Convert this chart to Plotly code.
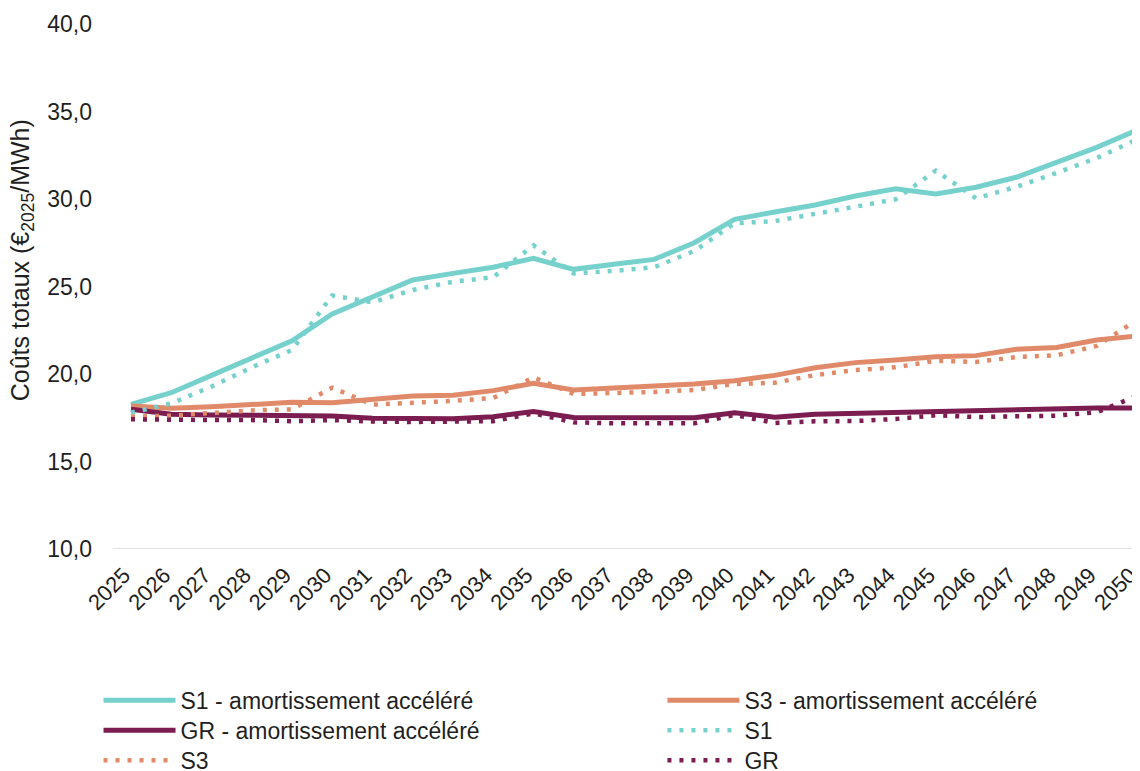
import plotly.graph_objects as go

years = [str(y) for y in range(2025, 2051)]

s1_acc = [18.27, 18.93, 19.92, 20.91, 21.90, 23.43, 24.40, 25.37, 25.75, 26.10,
          26.61, 25.98, 26.27, 26.55, 27.50, 28.84, 29.26, 29.66, 30.17, 30.59,
          30.29, 30.67, 31.24, 32.13, 32.95, 33.94]
s3_acc = [18.17, 18.04, 18.13, 18.27, 18.38, 18.36, 18.57, 18.74, 18.79, 19.05,
          19.47, 19.09, 19.20, 19.31, 19.43, 19.62, 19.92, 20.36, 20.65, 20.80,
          20.99, 21.05, 21.41, 21.51, 21.94, 22.17]
gr_acc = [17.98, 17.70, 17.66, 17.64, 17.60, 17.60, 17.47, 17.47, 17.45, 17.56,
          17.85, 17.52, 17.50, 17.49, 17.50, 17.79, 17.53, 17.70, 17.75, 17.83,
          17.89, 17.92, 17.98, 18.02, 18.06, 18.06]
s1 = [17.79, 18.32, 19.28, 20.38, 21.37, 24.49, 24.10, 24.80, 25.27, 25.53,
      27.35, 25.75, 25.89, 26.10, 27.03, 28.61, 28.74, 29.12, 29.56, 29.98,
      31.62, 30.04, 30.69, 31.49, 32.34, 33.40]
s3 = [17.56, 17.62, 17.77, 17.92, 17.98, 19.22, 18.25, 18.34, 18.46, 18.63,
      19.81, 18.86, 18.90, 18.97, 19.09, 19.43, 19.50, 19.94, 20.23, 20.38,
      20.76, 20.69, 20.97, 21.07, 21.60, 23.09]
gr = [17.41, 17.37, 17.37, 17.37, 17.30, 17.37, 17.28, 17.26, 17.26, 17.30,
      17.75, 17.24, 17.18, 17.18, 17.18, 17.66, 17.20, 17.30, 17.31, 17.43,
      17.64, 17.54, 17.58, 17.62, 17.81, 18.75]

y_ticks = [10, 15, 20, 25, 30, 35, 40]
y_tick_text = ["10,0", "15,0", "20,0", "25,0", "30,0", "35,0", "40,0"]

TEAL = "#76D1CD"
ORANGE = "#E08A6A"
MAROON = "#7B1D50"
FONT = "Liberation Sans, Arial, sans-serif"
TXT = "#1f1f1f"
DOT = "4px,8px"

# (name, values, colour, dash) -- legend laid out in two columns, three rows
series = [
    ("S1 - amortissement accéléré", s1_acc, TEAL, "solid"),
    ("S3 - amortissement accéléré", s3_acc, ORANGE, "solid"),
    ("GR - amortissement accéléré", gr_acc, MAROON, "solid"),
    ("S1", s1, TEAL, DOT),
    ("S3", s3, ORANGE, DOT),
    ("GR", gr, MAROON, DOT),
]

legend_names = ["legend", "legend2", "legend3", "legend4", "legend5", "legend6"]

fig = go.Figure()
for (name, vals, col, dash), lg in zip(series, legend_names):
    fig.add_trace(go.Scatter(
        x=years, y=vals, name=name, mode="lines", legend=lg,
        line=dict(color=col, width=5 if dash == "solid" else 4.5, dash=dash),
        hoverinfo="skip",
    ))

legend_common = dict(
    orientation="v", yanchor="top", xanchor="left", itemwidth=72,
    font=dict(family=FONT, size=23, color=TXT),
    bgcolor="rgba(0,0,0,0)", tracegroupgap=0,
)
col_x = [-0.0141, 0.535]
row_y0 = -0.2474
row_step = 30 / 525
legend_layout = {}
for i, lg in enumerate(legend_names):
    r, c = divmod(i, 2)
    legend_layout[lg] = dict(x=col_x[c], y=row_y0 - r * row_step, **legend_common)

fig.update_layout(
    width=1132, height=763,
    paper_bgcolor="white", plot_bgcolor="white",
    margin=dict(l=105, r=0, t=16, b=222, autoexpand=False),
    font=dict(family=FONT, size=23, color=TXT),
    showlegend=True,
    xaxis=dict(
        type="category", range=[-0.447, 25.075], tickangle=-45,
        showgrid=False, showline=False, zeroline=False, ticks="",
        ticklabelstandoff=8, ticklabelshift=-7,
        tickfont=dict(family=FONT, size=22, color=TXT),
    ),
    yaxis=dict(
        range=[10, 40], tickvals=y_ticks, ticktext=y_tick_text,
        showgrid=False, zeroline=False, showline=False, ticks="",
        ticklabelstandoff=20,
        tickfont=dict(family=FONT, size=23, color=TXT),
    ),
    shapes=[dict(type="line", xref="paper", yref="y", x0=0, x1=1, y0=10, y1=10,
                 line=dict(color="#D9D9D9", width=1.5), layer="below")],
    annotations=[dict(
        text="Coûts totaux (€<sub>2025</sub>/MWh)", textangle=-90,
        xref="paper", yref="paper", x=-0.0886, y=0.55, xanchor="center", yanchor="middle",
        showarrow=False, font=dict(family=FONT, size=25, color=TXT),
    )],
    **legend_layout,
)

fig.write_html("out.html")
